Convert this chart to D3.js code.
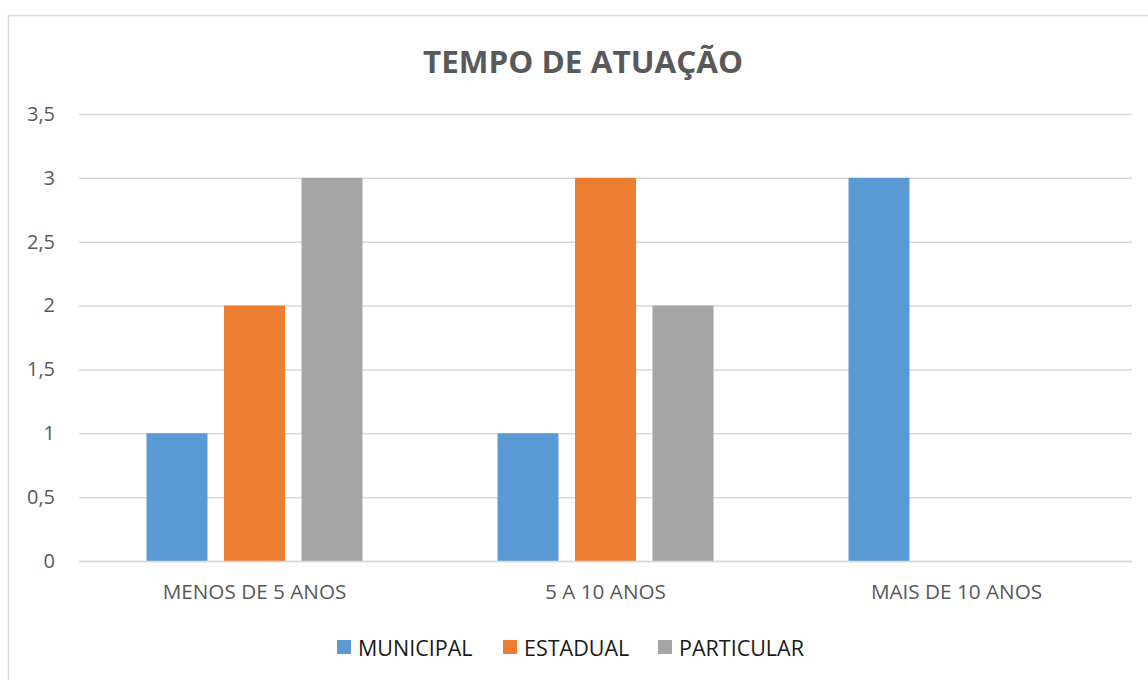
<!DOCTYPE html>
<html>
<head>
<meta charset="utf-8">
<script src="https://cdn.jsdelivr.net/npm/d3@7"></script>
<style>
  body { margin: 0; background: #fff; }
  #chart { width: 1148px; height: 680px; }
  text { font-family: "Open Sans", "Noto Sans", sans-serif; }
</style>
</head>
<body>
<div id="chart"></div>
<script>
const categories = ['MENOS DE 5 ANOS', '5 A 10 ANOS', 'MAIS DE 10 ANOS'];
const seriesNames = ['MUNICIPAL', 'ESTADUAL', 'PARTICULAR'];
const municipal = [1, 1, 3];
const estadual = [2, 3, 0];
const particular = [3, 2, 0];
const yTicks = [0, 0.5, 1, 1.5, 2, 2.5, 3, 3.5];

const colors = ['#5b9bd5', '#ed7d31', '#a5a5a5'];
const values = [municipal, estadual, particular];

const width = 1148, height = 680;
const margin = { left: 79, right: 16, top: 114, bottom: 119 };
const innerWidth = width - margin.left - margin.right;
const innerHeight = height - margin.top - margin.bottom;

const svg = d3.select('#chart').append('svg')
  .attr('width', width)
  .attr('height', height);

// chart border (runs off right and bottom like the original)
svg.append('rect')
  .attr('x', 8.5).attr('y', 15.5)
  .attr('width', 1150).attr('height', 680)
  .attr('fill', 'none')
  .attr('stroke', '#d9d9d9')
  .attr('stroke-width', 1.5);

svg.append('text')
  .attr('x', 583).attr('y', 73)
  .attr('text-anchor', 'middle')
  .attr('font-size', 31)
  .attr('font-weight', 'bold')
  .attr('fill', '#595959')
  .attr('textLength', 320)
  .attr('lengthAdjust', 'spacingAndGlyphs')
  .text('TEMPO DE ATUAÇÃO');

const g = svg.append('g').attr('transform', `translate(${margin.left},${margin.top})`);

const x0 = d3.scaleBand().domain(categories).range([0, innerWidth]).padding(0);
const x1 = d3.scaleBand().domain(seriesNames)
  .range([67.5, x0.bandwidth() - 67.5])
  .paddingInner(0.213).paddingOuter(0);
const y = d3.scaleLinear().domain([0, 3.5]).range([innerHeight, 0]);

const fmt = d => String(d).replace('.', ',');

// grid + y labels
const yAxis = d3.axisLeft(y).tickValues(yTicks).tickSize(-innerWidth).tickPadding(24).tickFormat(fmt);
g.append('g').attr('class', 'y-axis').call(yAxis)
  .call(s => s.select('.domain').remove())
  .call(s => s.selectAll('line').attr('stroke', '#d9d9d9').attr('stroke-width', 1.5))
  .call(s => s.selectAll('text').attr('fill', '#595959').attr('font-size', 20));

// bars
const groups = g.selectAll('.cat').data(categories).join('g')
  .attr('class', 'cat')
  .attr('transform', d => `translate(${x0(d)},0)`);

groups.selectAll('rect')
  .data((c, ci) => seriesNames.map((s, si) => ({ s, si, v: values[si][ci] })))
  .join('rect')
  .attr('x', d => x1(d.s))
  .attr('width', x1.bandwidth())
  .attr('y', d => y(d.v))
  .attr('height', d => y(0) - y(d.v))
  .attr('fill', d => colors[d.si]);

// x labels
const xAxis = d3.axisBottom(x0).tickSize(0).tickPadding(23.5);
g.append('g').attr('transform', `translate(0,${innerHeight})`).call(xAxis)
  .call(s => s.select('.domain').attr('stroke', '#d9d9d9').attr('stroke-width', 1.5))
  .call(s => s.selectAll('text').attr('fill', '#595959').attr('font-size', 20.7));

// legend
const legendX = [337, 503, 658];
const leg = svg.append('g').selectAll('g').data(seriesNames).join('g')
  .attr('transform', (d, i) => `translate(${legendX[i]},640)`);
leg.append('rect').attr('width', 14).attr('height', 14).attr('fill', (d, i) => colors[i]);
leg.append('text').attr('x', 21).attr('y', 15.5)
  .attr('font-size', 21.5).attr('fill', '#1a1a1a')
  .text(d => d);
</script>
</body>
</html>
